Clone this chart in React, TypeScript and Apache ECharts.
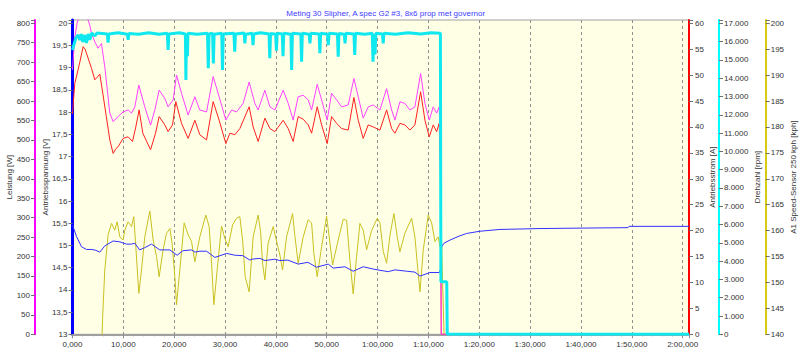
import React, { useEffect, useRef } from 'react';
import * as echarts from 'echarts';

const TITLE = 'Meting 30 Slipher, A spec G2 #3, 8x6 prop met governor';

// time [s], power [W]
const powerData: number[][] = [
  [0, 680], [0.4, 760], [0.9, 800], [1.1, 810], [1.8, 840], [2.5, 835], [3.0, 812], [3.4, 795],
  [3.74, 774], [4.4, 752], [5.04, 736], [5.7, 748], [6.35, 688], [7.34, 569], [8.0, 547],
  [8.85, 559], [9.95, 572], [10.94, 577], [11.6, 569], [12.26, 585], [13.04, 641], [14.22, 585],
  [15.35, 538], [16.19, 577], [17.04, 628], [18.16, 607], [18.8, 585], [19.8, 603], [20.46, 667],
  [21.44, 620], [22.74, 564], [24.06, 611], [25.04, 577], [26.36, 572], [27.66, 663], [28.84, 611],
  [30.16, 551], [31.28, 577], [32.26, 572], [33.56, 594], [34.74, 649], [35.86, 594], [36.51, 577],
  [37.83, 628], [38.82, 585], [39.8, 577], [41.43, 628], [42.42, 594], [43.4, 551], [44.38, 611],
  [45.37, 615], [46.35, 603], [47.02, 577], [48.12, 643], [48.99, 603], [50.09, 551], [50.95, 620],
  [51.94, 603], [52.92, 585], [54.22, 590], [55.34, 658], [56.19, 611], [57.17, 556], [58.15, 585],
  [59.14, 590], [60.46, 577], [61.77, 632], [62.76, 577], [63.41, 551], [64.39, 598], [65.37, 594],
  [66.36, 577], [67.34, 585], [68.46, 671], [69.31, 594], [70.16, 551], [70.94, 585], [71.61, 569],
  [72.12, 585], [72.35, 470], [72.52, 0], [121.24, 0],
];

// time [s], current [A]
const currentData: number[][] = [
  [0, 42.5], [0.26, 46.0], [0.45, 48.4], [0.85, 50.0], [1.44, 52.5], [2.09, 55.5], [2.48, 55.0],
  [3.0, 53.5], [3.74, 51.3], [4.39, 49.1], [5.04, 49.8], [5.37, 50.2], [5.96, 46.5], [6.65, 42.0],
  [7.34, 37.5], [7.99, 34.9], [8.52, 35.8], [8.97, 36.2], [9.95, 37.8], [10.94, 38.1], [11.8, 37.2],
  [12.45, 40.0], [13.1, 43.3], [13.83, 38.8], [15.35, 35.6], [16.33, 38.8], [17.04, 42.0],
  [18.16, 40.4], [18.8, 39.1], [19.67, 40.4], [20.32, 44.9], [21.44, 40.7], [22.74, 37.8],
  [24.06, 41.3], [25.04, 38.5], [26.36, 37.5], [27.66, 44.9], [28.84, 41.3], [30.16, 36.8],
  [30.95, 38.8], [31.93, 38.5], [32.91, 39.7], [34.74, 43.9], [35.53, 40.0], [36.51, 37.2],
  [37.83, 41.7], [38.82, 39.7], [39.8, 39.1], [41.43, 41.3], [42.42, 39.7], [43.4, 37.2],
  [44.38, 42.0], [45.37, 41.5], [46.35, 40.4], [47.02, 38.8], [48.12, 43.9], [48.99, 40.4],
  [50.09, 36.8], [50.95, 42.0], [51.94, 40.7], [52.92, 39.7], [54.22, 39.4], [55.34, 45.7],
  [56.19, 41.3], [57.17, 37.8], [58.15, 40.4], [59.14, 40.0], [60.46, 39.4], [61.77, 43.3],
  [62.76, 39.7], [63.41, 38.8], [64.39, 40.7], [65.37, 40.4], [66.36, 39.4], [67.34, 40.4],
  [68.46, 46.8], [69.31, 41.3], [70.16, 38.1], [70.94, 40.4], [71.61, 39.1], [72.12, 40.7],
  [72.35, 32], [72.52, 0], [121.24, 0],
];

// time [s], voltage [V]
const voltageData: number[][] = [
  [0, 15.46], [0.79, 15.2], [1.77, 14.97], [2.75, 14.91], [3.8, 14.91], [4.58, 14.89], [5.37, 14.85],
  [6.35, 14.99], [7.99, 15.1], [9.31, 15.08], [10.62, 15.03], [11.61, 15.03], [12.26, 15.05],
  [13.2, 14.9], [14.22, 14.95], [15.54, 15.03], [17.17, 14.9], [19.15, 14.9], [20.58, 14.78],
  [21.7, 14.88], [23.41, 14.9], [24.06, 14.85], [25.04, 14.87], [26.36, 14.87], [28.0, 14.73],
  [30.3, 14.82], [31.93, 14.78], [33.5, 14.77], [34.88, 14.67], [35.27, 14.69], [36.85, 14.71],
  [37.83, 14.66], [39.8, 14.69], [40.78, 14.66], [42.36, 14.67], [44.38, 14.58], [46.29, 14.62],
  [48.0, 14.51], [50.29, 14.58], [51.27, 14.49], [53.57, 14.52], [55.2, 14.42], [57.17, 14.52],
  [59.47, 14.46], [62.09, 14.41], [63.41, 14.45], [65.71, 14.42], [67.34, 14.4], [68.33, 14.31],
  [70.29, 14.39], [72.12, 14.39], [72.35, 14.45], [72.6, 14.97], [73.05, 15.05], [74.23, 15.12],
  [75.8, 15.2], [77.51, 15.27], [80.13, 15.32], [84.06, 15.36], [91.93, 15.38], [99.8, 15.39],
  [109.24, 15.4], [109.44, 15.43], [121.24, 15.43],
];

// time [s], rpm
const rpmData: number[][] = [
  [0, 15540], [0.26, 15810], [0.65, 16195], [1.1, 16360], [1.44, 16090], [1.73, 16415], [2.03, 15975],
  [2.42, 16360], [2.75, 15920], [3.1, 16415], [3.4, 16090], [3.8, 16470], [4.4, 16305], [4.8, 16470],
  [6.85, 16420], [7.0, 15950], [7.15, 16420], [9.0, 16480], [10.8, 16400], [10.94, 16100], [11.1, 16440],
  [13.0, 16400], [15.0, 16480], [17.0, 16400], [18.65, 16450], [18.8, 15540], [18.95, 16420],
  [21.0, 16480], [22.2, 16420], [22.3, 13900], [22.4, 16400], [22.6, 15200], [22.7, 16450],
  [24.5, 16400], [26.55, 16450], [26.7, 14540], [26.85, 16420], [27.55, 16450], [27.7, 14810],
  [27.85, 16400], [29.35, 16450], [29.5, 14450], [29.65, 16420], [31.75, 16450], [31.9, 15450],
  [32.05, 16420], [33.75, 16470], [33.9, 15900], [34.05, 16400], [35.35, 16450], [35.5, 15810],
  [35.65, 16420], [37.0, 16480], [38.65, 16420], [38.8, 15090], [38.95, 16450], [39.95, 16400],
  [40.1, 15500], [40.25, 16450], [41.25, 16420], [41.4, 15200], [41.55, 16450], [42.95, 16400],
  [43.1, 14450], [43.25, 16450], [44.9, 16420], [45.05, 14900], [45.2, 16450], [46.55, 16400],
  [46.7, 15900], [46.85, 16450], [48.5, 16420], [48.65, 15360], [48.8, 16450], [50.15, 16400],
  [50.3, 15800], [50.45, 16450], [52.1, 16420], [52.25, 15170], [52.4, 16450], [53.45, 16400],
  [53.6, 15900], [53.75, 16450], [55.35, 16420], [55.5, 15270], [55.65, 16450], [57.5, 16400],
  [58.95, 16450], [59.1, 14900], [59.25, 16400], [59.5, 15300], [59.65, 16450], [60.95, 16420],
  [61.1, 15900], [61.25, 16450], [63.5, 16400], [66.0, 16480], [68.5, 16420], [70.5, 16480],
  [72.35, 16450], [72.45, 2875], [73.6, 2875], [73.7, 0], [121.24, 0],
];

// time [s], speed [kph]
const speedData: number[][] = [
  [0, 125], [5.37, 125], [5.9, 142.8], [6.35, 152.4], [7.0, 159.2], [7.67, 161.4], [8.32, 160.1],
  [8.77, 161.7], [9.31, 158.8], [9.95, 158.2], [10.29, 160.1], [10.94, 161.7], [11.61, 160.8],
  [12.06, 162.7], [12.45, 156.9], [13.04, 147.9], [13.57, 152.4], [14.22, 158.8], [15.21, 163.8],
  [15.86, 158.2], [16.53, 155.0], [17.04, 151.1], [17.82, 156.3], [18.49, 159.5], [19.15, 160.4],
  [19.59, 157.5], [20.13, 151.1], [20.46, 145.7], [21.11, 152.4], [21.96, 161.5], [22.74, 159.2],
  [23.41, 157.9], [24.06, 154.0], [25.04, 158.8], [26.22, 163.0], [26.87, 160.8], [27.35, 153.7],
  [27.8, 145.7], [28.45, 152.4], [29.31, 160.9], [29.96, 158.5], [30.61, 156.9], [31.48, 161.1],
  [32.26, 162.4], [32.91, 162.7], [33.45, 158.2], [33.96, 151.1], [34.74, 148.2], [35.53, 158.8],
  [36.51, 163.0], [36.99, 159.8], [37.38, 153.7], [37.83, 150.5], [38.48, 157.6], [39.47, 160.8],
  [40.0, 158.5], [40.78, 155.3], [41.31, 152.4], [42.1, 158.8], [43.28, 163.3], [43.73, 159.0],
  [44.38, 153.7], [45.37, 158.8], [46.35, 162.1], [47.02, 161.5], [47.47, 155.6], [48.12, 151.1],
  [48.99, 156.9], [49.97, 162.8], [50.48, 158.8], [51.15, 153.4], [52.25, 158.2], [53.24, 162.2],
  [53.91, 162.0], [54.55, 154.3], [55.2, 147.8], [55.87, 155.0], [56.52, 161.4], [57.17, 160.1],
  [57.84, 156.3], [58.82, 160.0], [59.93, 162.4], [60.46, 161.5], [61.11, 156.0], [61.77, 153.7],
  [62.42, 159.0], [63.21, 163.3], [63.86, 158.8], [64.39, 155.9], [65.37, 159.5], [66.69, 162.4],
  [67.34, 158.8], [67.8, 153.7], [68.33, 148.2], [68.98, 156.3], [69.96, 163.0], [70.63, 161.5],
  [71.28, 157.9], [71.93, 158.8], [72.26, 156.9], [72.6, 157.6], [72.79, 149.8], [73.05, 140.8],
  [73.25, 125], [121.24, 125],
];

const FONT = 'Arial, "Liberation Sans", sans-serif';
const TXT = '#333333';

const near = (v: number, step: number) => Math.abs(v / step - Math.round(v / step)) < 1e-6;

const fmtTime = (v: number) => {
  if (!near(v, 10) || v > 120.0001) return '';
  const t = Math.round(v);
  if (t < 60) return `${t},000`;
  const m = Math.floor(t / 60);
  const s = t % 60;
  return `${m}:${s < 10 ? '0' + s : s},000`;
};

export default function App() {
  const ref = useRef<HTMLDivElement>(null);
  useEffect(() => {
    if (!ref.current) return;
    const chart = echarts.init(ref.current, undefined, { renderer: 'svg' });
    const labelBase = { fontSize: 8, color: TXT, fontFamily: FONT };
    const nameBase = { fontSize: 8, color: TXT, fontFamily: FONT };
    const tickBase = { show: true, length: 4, lineStyle: { color: '#707070', width: 1 } };
    const common = { type: 'value', nameLocation: 'middle', nameMoveOverlap: false, nameTextStyle: nameBase, splitLine: { show: false }, axisTick: tickBase };
    const yAxes: any[] = [
      {
        ...common, position: 'left', offset: 0, min: 13, max: 20.074, interval: 0.5,
        name: 'Antriebsspannung [V]', nameGap: 23,
        axisLine: { show: true, lineStyle: { color: '#0000ff', width: 3 } },
        axisLabel: { ...labelBase, margin: 5, formatter: (v: number) => (near(v, 0.5) && v <= 20.0001 ? String(v).replace('.', ',') : '') },
      },
      {
        ...common, position: 'left', offset: 37.5, min: 0, max: 808.5, interval: 50,
        name: 'Leistung [W]', nameGap: 22,
        axisLine: { show: true, lineStyle: { color: '#ff00ff', width: 2 } },
        axisLabel: { ...labelBase, margin: 5, formatter: (v: number) => (near(v, 50) && v <= 800.001 ? String(v) : '') },
      },
      {
        ...common, position: 'right', offset: 0, min: 0, max: 60.64, interval: 5,
        name: 'Antriebsstrom [A]', nameGap: 19,
        axisLine: { show: true, lineStyle: { color: '#ff0000', width: 2 } },
        axisLabel: { ...labelBase, margin: 6, formatter: (v: number) => (near(v, 5) && v <= 60.001 ? String(v) : '') },
      },
      {
        ...common, position: 'right', offset: 30, min: 0, max: 17180, interval: 1000,
        name: 'Drehzahl [rpm]', nameGap: 34,
        axisLine: { show: true, lineStyle: { color: '#00ffff', width: 2 } },
        axisLabel: {
          ...labelBase, margin: 5,
          formatter: (v: number) => (near(v, 1000) && v <= 17000.001 ? (v === 0 ? '0' : `${Math.round(v / 1000)}.000`) : ''),
        },
      },
      {
        ...common, position: 'right', offset: 76.7, min: 140, max: 200.64, interval: 5,
        name: 'A1 Speed-Sensor 250 kph [kph]', nameGap: 24,
        axisLine: { show: true, lineStyle: { color: '#d8cc10', width: 2 } },
        axisLabel: { ...labelBase, margin: 5, formatter: (v: number) => (near(v, 5) && v <= 200.001 ? String(v) : '') },
      },
    ];
    const lineSeries = (name: string, data: number[][], yAxisIndex: number, color: string, width: number, z: number) => ({
      name, type: 'line', data, yAxisIndex, showSymbol: false, symbol: 'none', clip: true, z,
      lineStyle: { color, width }, itemStyle: { color },
    });
    chart.setOption({
      animation: false,
      backgroundColor: '#ffffff',
      title: {
        text: TITLE, left: 380.75, top: 4, textAlign: 'center',
        textStyle: { fontSize: 8, fontWeight: 'normal', color: '#4040ff', fontFamily: FONT },
      },
      grid: {
        left: 72.5, right: 111, top: 20, bottom: 18.7, show: true, containLabel: false,
        outerBoundsMode: 'none',
        backgroundColor: '#ffffe6', borderColor: '#a0a0a0', borderWidth: 1,
      },
      xAxis: {
        type: 'value', min: 0, max: 121.24, interval: 10,
        axisLine: { show: true, lineStyle: { color: '#a0a0a0', width: 2 } },
        axisTick: { show: true, length: 4, lineStyle: { color: '#909090' } },
        minorTick: { show: true, splitNumber: 5, length: 2, lineStyle: { color: '#a0a0a0' } },
        axisLabel: { ...labelBase, margin: 6, formatter: fmtTime },
        splitLine: { show: true, lineStyle: { color: '#909090', type: [3, 3], width: 1 } },
      },
      yAxis: yAxes,
      series: [
        lineSeries('A1 Speed-Sensor 250 kph', speedData, 4, '#c8c020', 1, 2),
        lineSeries('Antriebsspannung', voltageData, 0, '#3030ff', 1, 3),
        lineSeries('Antriebsstrom', currentData, 2, '#ff2020', 1, 4),
        lineSeries('Leistung', powerData, 1, '#ff40ff', 1, 5),
        lineSeries('Drehzahl', rpmData, 3, '#10e8f0', 3, 6),
      ],
    });
    return () => chart.dispose();
  }, []);
  return <div ref={ref} style={{ position: 'fixed', left: 0, top: 0, width: 800, height: 353 }} />;
}
